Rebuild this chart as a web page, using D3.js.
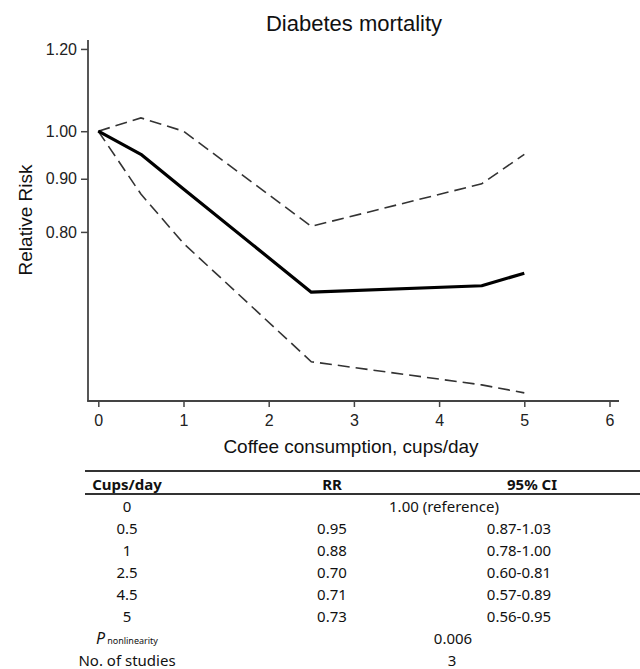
<!DOCTYPE html>
<html>
<head>
<meta charset="utf-8">
<script src="https://cdn.jsdelivr.net/npm/d3@7"></script>
<style>
  html, body { margin: 0; padding: 0; background: #fff; }
  svg { display: block; }
</style>
</head>
<body>
<div id="chart"></div>
<script>
const cups = [0, 0.5, 1, 2.5, 4.5, 5];
const rr = [1.00, 0.95, 0.88, 0.70, 0.71, 0.73];
const ciLow = [1.00, 0.87, 0.78, 0.60, 0.57, 0.56];
const ciHigh = [1.00, 1.03, 1.00, 0.81, 0.89, 0.95];
const yTicks = [0.80, 0.90, 1.00, 1.20];
const xTicks = [0, 1, 2, 3, 4, 5, 6];
const pNonlinearity = "0.006";
const nStudies = "3";

const W = 640, H = 669;
const PLOT = { left: 88, right: 619, top: 40, bottom: 401 };
const AXIS_FONT = "'Liberation Sans', Arial, sans-serif";
const TABLE_FONT = "'Noto Sans', 'Open Sans', sans-serif";

const svg = d3.select("#chart").append("svg")
    .attr("width", W)
    .attr("height", H);

const x = d3.scaleLinear().domain([0, 6]).range([98.3, 609.5]);
const y = d3.scaleLog().domain([0.55, 1.224]).range([PLOT.bottom, PLOT.top]);

// title
svg.append("text")
    .attr("x", 354).attr("y", 31)
    .attr("text-anchor", "middle")
    .attr("font-family", AXIS_FONT)
    .attr("font-size", 22)
    .attr("fill", "#111")
    .text("Diabetes mortality");

// axes
const axisColor = "#444";
const yAxis = svg.append("g")
    .attr("transform", `translate(${PLOT.left},0)`)
    .call(d3.axisLeft(y).tickValues(yTicks).tickFormat(d3.format(".2f")).tickSize(7).tickPadding(4).tickSizeOuter(0));
yAxis.select(".domain").remove();
yAxis.selectAll(".tick line").attr("stroke", axisColor).attr("stroke-width", 1.5);
yAxis.selectAll(".tick text")
    .attr("font-family", AXIS_FONT).attr("font-size", 16).attr("fill", "#222");

const xAxis = svg.append("g")
    .attr("transform", `translate(0,${PLOT.bottom})`)
    .call(d3.axisBottom(x).tickValues(xTicks).tickFormat(d3.format("d")).tickSize(6).tickPadding(8).tickSizeOuter(0));
xAxis.select(".domain").remove();
xAxis.selectAll(".tick line").attr("stroke", axisColor).attr("stroke-width", 1.5);
xAxis.selectAll(".tick text")
    .attr("font-family", AXIS_FONT).attr("font-size", 16).attr("fill", "#222");

svg.append("line")
    .attr("x1", PLOT.left).attr("x2", PLOT.left)
    .attr("y1", PLOT.top).attr("y2", PLOT.bottom)
    .attr("stroke", axisColor).attr("stroke-width", 1.8);
svg.append("line")
    .attr("x1", PLOT.left - 0.9).attr("x2", PLOT.right)
    .attr("y1", PLOT.bottom).attr("y2", PLOT.bottom)
    .attr("stroke", axisColor).attr("stroke-width", 1.8);

// axis titles
svg.append("text")
    .attr("x", 351).attr("y", 453)
    .attr("text-anchor", "middle")
    .attr("font-family", AXIS_FONT)
    .attr("font-size", 19)
    .attr("fill", "#111")
    .text("Coffee consumption, cups/day");

svg.append("text")
    .attr("transform", "translate(32,220) rotate(-90)")
    .attr("text-anchor", "middle")
    .attr("font-family", AXIS_FONT)
    .attr("font-size", 19)
    .attr("fill", "#111")
    .text("Relative Risk");

// curves
const line = d3.line()
    .x((d, i) => x(cups[i]))
    .y((d) => y(d));

svg.append("path")
    .datum(ciHigh)
    .attr("d", line)
    .attr("fill", "none")
    .attr("stroke", "#333")
    .attr("stroke-width", 1.6)
    .attr("stroke-dasharray", "12,6");

svg.append("path")
    .datum(ciLow)
    .attr("d", line)
    .attr("fill", "none")
    .attr("stroke", "#333")
    .attr("stroke-width", 1.6)
    .attr("stroke-dasharray", "12,6");

svg.append("path")
    .datum(rr)
    .attr("d", line)
    .attr("fill", "none")
    .attr("stroke", "#000")
    .attr("stroke-width", 3.2)
    .attr("stroke-linejoin", "round");

// table
const f2 = d3.format(".2f");
const col = { cups: 127, rr: 332, ci: 519, ciHead: 532, span: 444 };
const rowY = d3.scaleLinear().domain([0, 1]).range([507, 529]);

const tbl = svg.append("g")
    .attr("font-family", TABLE_FONT)
    .attr("font-size", 15)
    .attr("fill", "#111")
    .attr("text-anchor", "middle");

tbl.append("line")
    .attr("x1", 85).attr("x2", 640).attr("y1", 471).attr("y2", 471)
    .attr("stroke", "#333").attr("stroke-width", 2);
tbl.append("line")
    .attr("x1", 85).attr("x2", 640).attr("y1", 494).attr("y2", 494)
    .attr("stroke", "#333").attr("stroke-width", 2);

const head = tbl.append("g").attr("font-weight", "bold");
head.append("text").attr("x", col.cups).attr("y", 485).attr("dy", "0.35em").text("Cups/day");
head.append("text").attr("x", col.rr).attr("y", 485).attr("dy", "0.35em").text("RR");
head.append("text").attr("x", col.ciHead).attr("y", 485).attr("dy", "0.35em").text("95% CI");

cups.forEach((c, i) => {
    const yy = rowY(i);
    tbl.append("text").attr("x", col.cups).attr("y", yy).attr("dy", "0.35em").text(String(c));
    if (i === 0) {
        tbl.append("text").attr("x", col.span).attr("y", yy).attr("dy", "0.35em")
            .text(`${f2(rr[i])} (reference)`);
    } else {
        tbl.append("text").attr("x", col.rr).attr("y", yy).attr("dy", "0.35em").text(f2(rr[i]));
        tbl.append("text").attr("x", col.ci).attr("y", yy).attr("dy", "0.35em")
            .text(`${f2(ciLow[i])}-${f2(ciHigh[i])}`);
    }
});

const pY = rowY(cups.length);
const pLabel = tbl.append("text").attr("x", col.cups).attr("y", pY).attr("dy", "0.35em");
pLabel.append("tspan").attr("font-style", "italic").attr("font-size", 16).text("P");
pLabel.append("tspan").attr("font-size", 9).attr("dx", 2).text("nonlinearity");
tbl.append("text").attr("x", 453).attr("y", pY).attr("dy", "0.35em").text(pNonlinearity);

const nY = rowY(cups.length + 1);
tbl.append("text").attr("x", col.cups).attr("y", nY).attr("dy", "0.35em").text("No. of studies");
tbl.append("text").attr("x", 452).attr("y", nY).attr("dy", "0.35em").text(nStudies);
</script>
</body>
</html>
